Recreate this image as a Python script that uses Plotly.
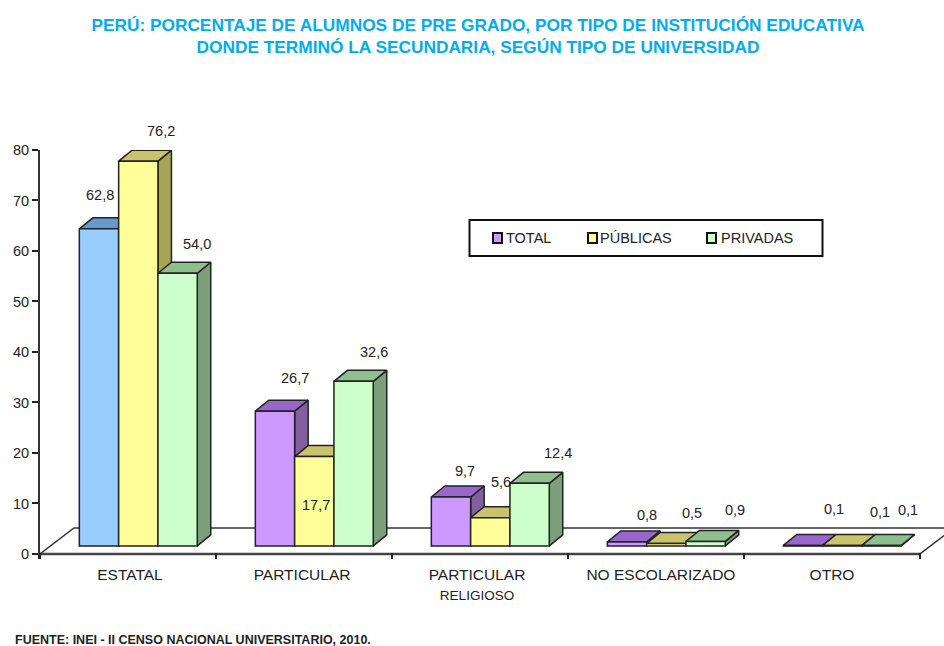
import plotly.graph_objects as go

# ---- data ----
categories = ["ESTATAL", "PARTICULAR", "PARTICULAR<br><span style='font-size:13.5px'>RELIGIOSO</span>",
              "NO ESCOLARIZADO", "OTRO"]
series_names = ["TOTAL", "PÚBLICAS", "PRIVADAS"]
total = [62.8, 26.7, 9.7, 0.8, 0.1]
publicas = [76.2, 17.7, 5.6, 0.5, 0.1]
privadas = [54.0, 32.6, 12.4, 0.9, 0.1]
y_ticks = [0, 10, 20, 30, 40, 50, 60, 70, 80]

# ---- styling / layout ----
W, H = 944, 646
L, R, T, B = 40, 944, 150, 559
Y_RANGE = [-1, 80]
CAT_PX = 176.0
X0 = (40 - 138.3) / CAT_PX
XR = [X0, X0 + (R - L) / CAT_PX]
PX_Y = (B - T) / (Y_RANGE[1] - Y_RANGE[0])
BASE = 8 / PX_Y          # bars stand on the floor, above the axis
DEPTH_X = 13.5 / CAT_PX
DEPTH_Y = 11 / PX_Y
FLOOR_X = 34 / CAT_PX
FLOOR_Y = 26 / PX_Y
BAR_W = (1 - 0.33) / 3

INK = "#222222"
FONT = "Liberation Sans"
FRONT = ["#CC99FF", "#FFFF99", "#CCFFCC"]
TOPC = ["#9966CC", "#C8C46C", "#8FBF8F"]
SIDE = ["#80609F", "#A8A455", "#7A9F7A"]
FIRST_FRONT, FIRST_TOP, FIRST_SIDE = "#99CCFF", "#6699CC", "#5C85AD"

values = [total, publicas, privadas]
fig = go.Figure()


def px(x):
    return (x - L) / (R - L)


def py(y):
    return (B - y) / (B - T)


def poly(xs, ys, fill):
    fig.add_trace(go.Scatter(x=xs + xs[:1], y=ys + ys[:1], mode="lines", fill="toself",
                             fillcolor=fill, line=dict(color=INK, width=1.5),
                             hoverinfo="skip", showlegend=False))


# floor outline and the x axis line, axis-bound so they follow the scales
x_end = X0 + 5
fig.add_trace(go.Scatter(
    x=[X0, X0 + FLOOR_X, x_end + FLOOR_X, x_end], y=[0, FLOOR_Y, FLOOR_Y, 0],
    mode="lines", line=dict(color="#333333", width=1.5),
    hoverinfo="skip", showlegend=False))
fig.add_trace(go.Scatter(
    x=[X0, x_end], y=[0, 0], mode="lines", line=dict(color="#444444", width=2.5),
    hoverinfo="skip", showlegend=False))

# side faces, then top faces (painter's order)
for s, vals in enumerate(values):
    for i, v in enumerate(vals):
        xr = i + (s - 1) * BAR_W + BAR_W / 2
        color = FIRST_SIDE if (s == 0 and i == 0) else SIDE[s]
        poly([xr, xr + DEPTH_X, xr + DEPTH_X, xr],
             [BASE, BASE + DEPTH_Y, BASE + v + DEPTH_Y, BASE + v], color)
for s, vals in enumerate(values):
    for i, v in enumerate(vals):
        xl = i + (s - 1) * BAR_W - BAR_W / 2
        color = FIRST_TOP if (s == 0 and i == 0) else TOPC[s]
        poly([xl, xl + BAR_W, xl + BAR_W + DEPTH_X, xl + DEPTH_X],
             [BASE + v, BASE + v, BASE + v + DEPTH_Y, BASE + v + DEPTH_Y], color)

# front faces on an overlaid pair of axes so that they cover the side faces
for s, vals in enumerate(values):
    colors = [FRONT[s]] * len(vals)
    if s == 0:
        colors[0] = FIRST_FRONT
    fig.add_trace(go.Bar(x=list(range(5)), y=vals, base=[BASE] * 5, name=series_names[s],
                         marker=dict(color=colors, line=dict(color=INK, width=1.5)),
                         xaxis="x2", yaxis="y2", showlegend=False))

# value labels
LABEL_DX = [[1, 20, 14, 20, 31], [23, 2, 11, 26, 38], [19, 20, 28, 29, 26]]
LABEL_DY = [[34, 33, 26, 27, 36], [30, -48, 36, 30, 33], [29, 29, 30, 31, 35]]
ann = []
for s, vals in enumerate(values):
    for i, v in enumerate(vals):
        ann.append(dict(x=i + (s - 1) * BAR_W, y=BASE + v, xref="x2", yref="y2",
                        text=f"{v:.1f}".replace(".", ","), showarrow=False,
                        xshift=LABEL_DX[s][i], yshift=LABEL_DY[s][i],
                        font=dict(family=FONT, size=14.5, color=INK)))

# footer
ann.append(dict(x=px(15), y=py(640), xref="paper", yref="paper", xanchor="left", yanchor="middle",
                text="<b>FUENTE: INEI - II CENSO NACIONAL UNIVERSITARIO, 2010.</b>", showarrow=False,
                xshift=-2, font=dict(family=FONT, size=12.5, color=INK)))

# legend panel
shapes = [dict(type="rect", xref="paper", yref="paper", x0=px(469.5), x1=px(822.5),
               y0=py(256), y1=py(220), line=dict(color="#111111", width=2),
               fillcolor="white")]
SW_X = [493, 588, 707]
TXT_X = [506, 600, 721]
for s in range(3):
    shapes.append(dict(type="rect", xref="paper", yref="paper",
                       x0=px(SW_X[s]), x1=px(SW_X[s] + 9), y0=py(243), y1=py(233),
                       line=dict(color="#111111", width=2), fillcolor=FRONT[s]))
    ann.append(dict(x=px(TXT_X[s]), y=py(238), xref="paper", yref="paper",
                    xanchor="left", yanchor="middle", text=series_names[s], showarrow=False,
                    xshift=-2, font=dict(family=FONT, size=14.5, color=INK)))

label_pos = [0.011, -0.011, -0.017, 0.028, 0.0]
boundaries = [X0 + k for k in range(6)]
fig.update_layout(
    width=W, height=H, autosize=False,
    margin=dict(l=L, r=W - R, t=T, b=H - B, pad=0),
    paper_bgcolor="white", plot_bgcolor="rgba(0,0,0,0)",
    font=dict(family=FONT, color=INK),
    title=dict(text="<b>PERÚ: PORCENTAJE DE ALUMNOS DE PRE GRADO, POR TIPO DE INSTITUCIÓN EDUCATIVA<br>"
                    "DONDE TERMINÓ LA SECUNDARIA, SEGÚN TIPO DE UNIVERSIDAD</b>",
               x=478 / W, xanchor="center", y=1 - 30.5 / H, yanchor="top",
               font=dict(family=FONT, size=17.3, color="#00AEEF")),
    barmode="group", bargap=0.33, bargroupgap=0, showlegend=False,
    shapes=shapes, annotations=ann,
    xaxis=dict(range=XR, showgrid=False, zeroline=False, showline=False,
               tickmode="array", tickvals=[k + X0 + 0.5 + d for k, d in enumerate(label_pos)],
               ticktext=categories, ticks="outside", ticklen=1, tickcolor="rgba(0,0,0,0)",
               tickfont=dict(family=FONT, size=15.5, color=INK),
               minor=dict(tickmode="array", tickvals=boundaries, ticks="inside", ticklen=6,
                          tickwidth=1.5, tickcolor="#222222", showgrid=False)),
    yaxis=dict(range=Y_RANGE, tickmode="array", tickvals=y_ticks, ticks="outside", ticklen=6, tickwidth=1.5,
               tickcolor="#222222", showgrid=False, zeroline=False, showline=True, linecolor="#333333",
               linewidth=2, ticksuffix="\u2002", tickfont=dict(family=FONT, size=14.5, color=INK)),
    xaxis2=dict(range=XR, overlaying="x", visible=False),
    yaxis2=dict(range=Y_RANGE, overlaying="y", visible=False),
)

fig.write_html("out.html", config={"displayModeBar": False},
               post_script="document.body.style.margin='0';document.body.style.overflow='hidden';")
